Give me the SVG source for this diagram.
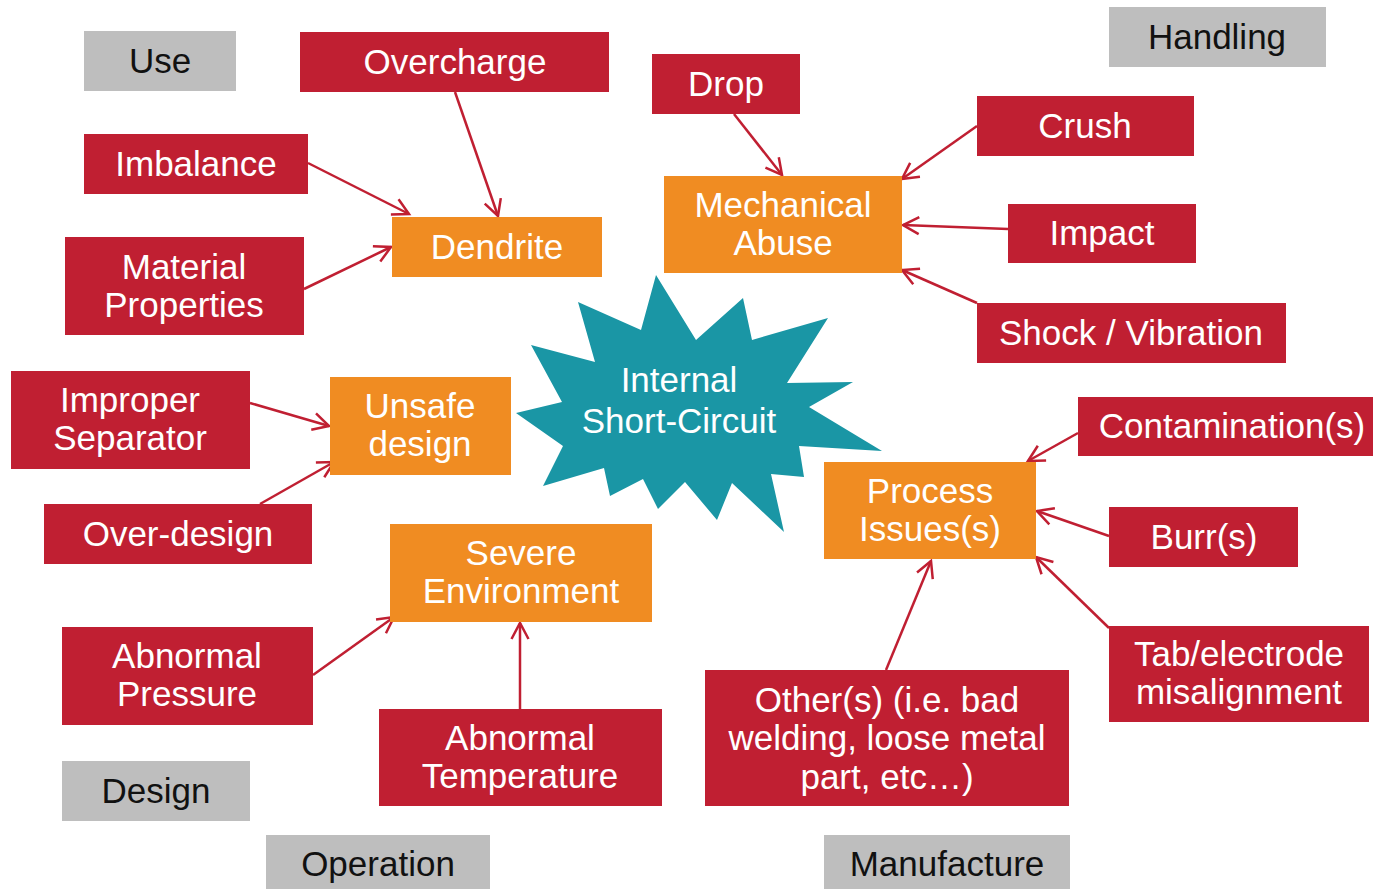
<svg xmlns="http://www.w3.org/2000/svg" width="1373" height="889" viewBox="0 0 1373 889">
<style>
.r{fill:#c01f32}.o{fill:#f08c22}.g{fill:#bebebe}
text{font-family:"Liberation Sans",Arial,sans-serif;font-size:35px;text-anchor:middle;fill:#fff}
.k{fill:#111}
.c line{stroke:#c01f32;stroke-width:2.5;fill:none;marker-end:url(#a)}
</style>
<defs>
<marker id="a" markerUnits="userSpaceOnUse" markerWidth="22" markerHeight="22" viewBox="0 0 22 22" refX="18" refY="11" orient="auto">
<path d="M2,2.5 L18,11 L2,19.5" fill="none" stroke="#c01f32" stroke-width="2.5"/>
</marker>
</defs>
<rect width="1373" height="889" fill="#fff"/>
<g id="star">
<polygon fill="#1a96a5" points="656,275 696,340 743,298 752,340 828,318 787,383 853,382 809,407 882,451 799,446 804,477 771,474 784,532 732,483 717,520 685,482 658,509 643,479 610,496 604,468 543,486 563,446 516,413 562,402 531,345 595,362 578,302 641,330"/>
<text x="679" y="392">Internal</text>
<text x="679" y="433">Short-Circuit</text>
</g>
<g class="c">
<line x1="455" y1="92" x2="498" y2="216"/>
<line x1="308" y1="163" x2="409" y2="214"/>
<line x1="304" y1="289" x2="391" y2="247"/>
<line x1="734" y1="114" x2="782" y2="175"/>
<line x1="977" y1="126" x2="902" y2="179"/>
<line x1="1008" y1="229" x2="903" y2="225"/>
<line x1="977" y1="303" x2="902" y2="270"/>
<line x1="1078" y1="433" x2="1028" y2="461"/>
<line x1="1109" y1="536" x2="1037" y2="511"/>
<line x1="1109" y1="628" x2="1036" y2="557"/>
<line x1="886" y1="670" x2="931" y2="561"/>
<line x1="250" y1="403" x2="329" y2="426"/>
<line x1="260" y1="504" x2="334" y2="462"/>
<line x1="313" y1="675" x2="394" y2="617"/>
<line x1="520" y1="709" x2="520" y2="623"/>
</g>
<g id="use"><rect class="g" x="84" y="31" width="152" height="60"/><text class="k" x="160" y="73">Use</text></g>
<g id="handling"><rect class="g" x="1109" y="7" width="217" height="60"/><text class="k" x="1217" y="49">Handling</text></g>
<g id="design"><rect class="g" x="62" y="761" width="188" height="60"/><text class="k" x="156" y="803">Design</text></g>
<g id="operation"><rect class="g" x="266" y="835" width="224" height="54"/><text class="k" x="378" y="876">Operation</text></g>
<g id="manufacture"><rect class="g" x="824" y="835" width="246" height="54"/><text class="k" x="947" y="876">Manufacture</text></g>

<g id="overcharge"><rect class="r" x="300" y="32" width="309" height="60"/><text x="455" y="74">Overcharge</text></g>
<g id="imbalance"><rect class="r" x="84" y="134" width="224" height="60"/><text x="196" y="176">Imbalance</text></g>
<g id="material"><rect class="r" x="65" y="237" width="239" height="98"/><text x="184" y="279">Material</text><text x="184" y="317">Properties</text></g>
<g id="drop"><rect class="r" x="652" y="54" width="148" height="60"/><text x="726" y="96">Drop</text></g>
<g id="crush"><rect class="r" x="977" y="96" width="217" height="60"/><text x="1085" y="138">Crush</text></g>
<g id="impact"><rect class="r" x="1008" y="204" width="188" height="59"/><text x="1102" y="245">Impact</text></g>
<g id="shock"><rect class="r" x="977" y="303" width="309" height="60"/><text x="1131" y="345">Shock / Vibration</text></g>
<g id="improper"><rect class="r" x="11" y="371" width="239" height="98"/><text x="130" y="412">Improper</text><text x="130" y="450">Separator</text></g>
<g id="overdesign"><rect class="r" x="44" y="504" width="268" height="60"/><text x="178" y="546">Over-design</text></g>
<g id="contamination"><rect class="r" x="1078" y="397" width="295" height="59"/><text x="1232" y="438">Contamination(s)</text></g>
<g id="burr"><rect class="r" x="1109" y="507" width="189" height="60"/><text x="1204" y="549">Burr(s)</text></g>
<g id="tab"><rect class="r" x="1109" y="626" width="260" height="96"/><text x="1239" y="666">Tab/electrode</text><text x="1239" y="704">misalignment</text></g>
<g id="pressure"><rect class="r" x="62" y="627" width="251" height="98"/><text x="187" y="668">Abnormal</text><text x="187" y="706">Pressure</text></g>
<g id="temperature"><rect class="r" x="379" y="709" width="283" height="97"/><text x="520" y="750">Abnormal</text><text x="520" y="788">Temperature</text></g>
<g id="others"><rect class="r" x="705" y="670" width="364" height="136"/><text x="887" y="712">Other(s) (i.e. bad</text><text x="887" y="750">welding, loose metal</text><text x="887" y="789">part, etc…)</text></g>

<g id="dendrite"><rect class="o" x="392" y="217" width="210" height="60"/><text x="497" y="259">Dendrite</text></g>
<g id="mechanical"><rect class="o" x="664" y="176" width="238" height="97"/><text x="783" y="217">Mechanical</text><text x="783" y="255">Abuse</text></g>
<g id="unsafe"><rect class="o" x="330" y="377" width="181" height="98"/><text x="420" y="418">Unsafe</text><text x="420" y="456">design</text></g>
<g id="severe"><rect class="o" x="390" y="524" width="262" height="98"/><text x="521" y="565">Severe</text><text x="521" y="603">Environment</text></g>
<g id="process"><rect class="o" x="824" y="462" width="212" height="97"/><text x="930" y="503">Process</text><text x="930" y="541">Issues(s)</text></g>
</svg>
